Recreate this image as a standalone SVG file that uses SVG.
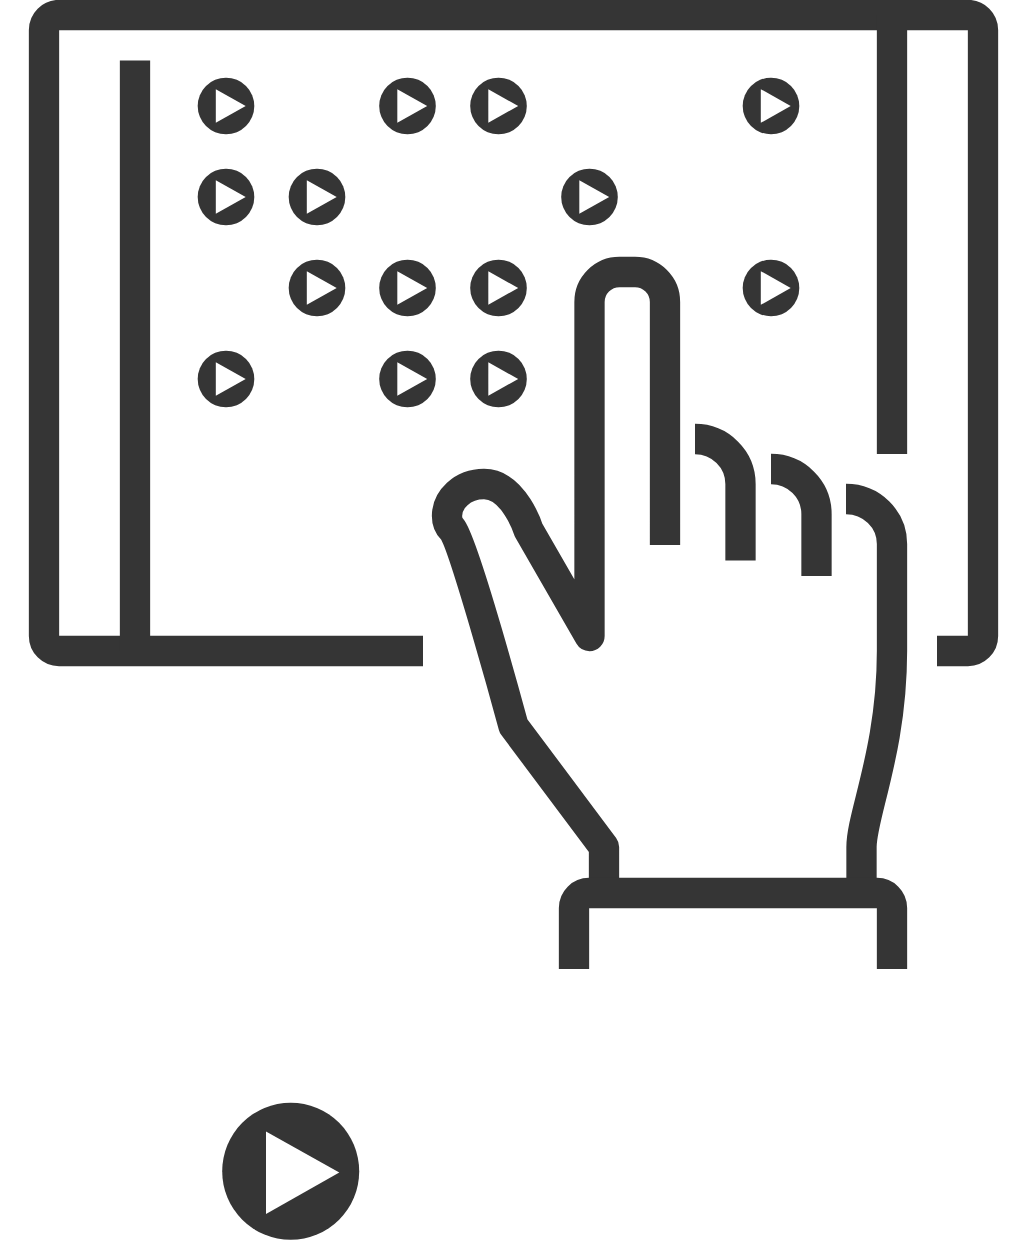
<svg xmlns="http://www.w3.org/2000/svg" xmlns:xlink="http://www.w3.org/1999/xlink" width="1027" height="1240" viewBox="0 0 1027 1240" shape-rendering="geometricPrecision">
<style>
.l{fill:none;stroke:#353535;stroke-width:30.3}
.r{stroke-linejoin:round}
.d{fill:#353535}
.t{fill:#fff}
</style>
<defs>
<g id="play"><circle class="d" r="28.3"/><path class="t" d="M-10.2 -16.8L19.7 0L-10.2 16.8Z"/></g>
</defs>
<rect width="1027" height="1240" fill="#fff"/>
<g id="screen">
<path class="l" d="M423 651H59A15 15 0 0 1 44 636V30A15 15 0 0 1 59 15H968A15 15 0 0 1 983 30V636A15 15 0 0 1 968 651H937"/>
<path class="l" d="M135 60.500V651"/>
<path class="l" d="M892 15V454"/>
</g>
<g id="icons">
<use xlink:href="#play" href="#play" x="226" y="106"/>
<use xlink:href="#play" href="#play" x="407.500" y="106"/>
<use xlink:href="#play" href="#play" x="498.500" y="106"/>
<use xlink:href="#play" href="#play" x="771" y="106"/>
<use xlink:href="#play" href="#play" x="226" y="197"/>
<use xlink:href="#play" href="#play" x="317" y="197"/>
<use xlink:href="#play" href="#play" x="589.500" y="197"/>
<use xlink:href="#play" href="#play" x="317" y="288"/>
<use xlink:href="#play" href="#play" x="407.500" y="288"/>
<use xlink:href="#play" href="#play" x="498.500" y="288"/>
<use xlink:href="#play" href="#play" x="771" y="288"/>
<use xlink:href="#play" href="#play" x="226" y="379"/>
<use xlink:href="#play" href="#play" x="407.500" y="379"/>
<use xlink:href="#play" href="#play" x="498.500" y="379"/>
</g>
<g id="hand">
<path class="l r" d="M665 545V302A30 30 0 0 0 635 272H619.500A30 30 0 0 0 589.500 302V636L528.500 530C528.500 530 514 484 484 484C462 484 447 500 447 516C447 522 449 526 452 529C464 543 513.500 726 513.500 726L604 847V893"/>
<path class="l" d="M695 439A45.500 45 0 0 1 740.500 484V560.500"/>
<path class="l" d="M771 469A45.500 45 0 0 1 816.500 514V576"/>
<path class="l" d="M846 499A46 45 0 0 1 892 544V651C892 750 861.500 815 861.500 847V893"/>
<path class="l" d="M574 969V908A15 15 0 0 1 589 893H877A15 15 0 0 1 892 908V969"/>
</g>
<g id="large-icon">
<circle class="d" cx="290.700" cy="1171.300" r="68.500"/>
<path class="t" d="M266 1131.500L339.300 1172.500L266 1214Z"/>
</g>
</svg>
